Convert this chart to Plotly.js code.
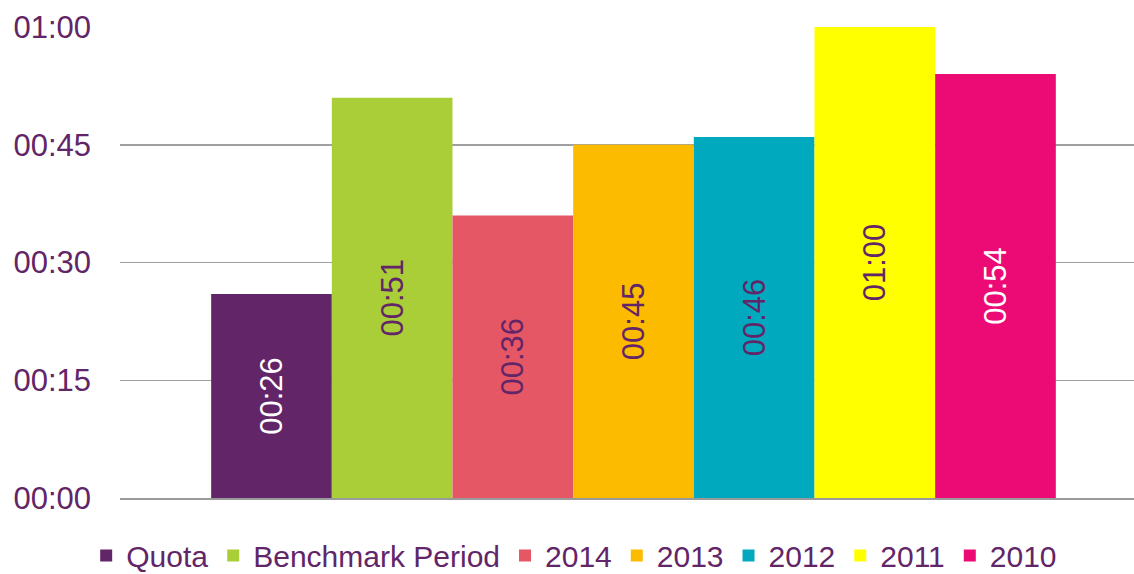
<!DOCTYPE html>
<html>
<head>
<meta charset="utf-8">
<script src="https://cdn.plot.ly/plotly-3.0.1.min.js"></script>
<style>html,body{margin:0;padding:0;background:#fff;}#chart{width:1134px;height:574px;}</style>
</head>
<body>
<div id="chart"></div>
<script>
const category = ["Average time"];
const seriesNames = ["Quota", "Benchmark Period", "2014", "2013", "2012", "2011", "2010"];
const seriesSeconds = [26, 51, 36, 45, 46, 60, 54];
const seriesColors = ["#622567", "#A9CE38", "#E65766", "#FDBB00", "#00A9BE", "#FFFF00", "#EC0A75"];
const labelColors = ["#FFFFFF", "#622567", "#622567", "#622567", "#622567", "#622567", "#FFFFFF"];
const tickValues = [0, 15, 30, 45, 60];
const tickLabels = ["00:00", "00:15", "00:30", "00:45", "01:00"];

function mmss(s) {
  const m = Math.floor(s / 60), r = Math.round(s % 60);
  return String(m).padStart(2, "0") + ":" + String(r).padStart(2, "0");
}

const purple = "#622567";
const traces = seriesNames.map((n, i) => ({
  type: "bar",
  name: n,
  x: category,
  y: [seriesSeconds[i]],
  text: [mmss(seriesSeconds[i])],
  texttemplate: "%{text}",
  textposition: "inside",
  insidetextanchor: "middle",
  textangle: -90,
  constraintext: "none",
  insidetextfont: {family: "Liberation Sans, Arial, sans-serif", size: 31, color: labelColors[i]},
  marker: {color: seriesColors[i], line: {width: 0}},
  hoverinfo: "skip"
}));

const layout = {
  width: 1134, height: 574,
  margin: {l: 120, r: 0, t: 27, b: 76, autoexpand: false},
  paper_bgcolor: "#fff", plot_bgcolor: "#fff",
  barmode: "group", bargap: 0.167, bargroupgap: 0,
  font: {family: "Liberation Sans, Arial, sans-serif", color: purple},
  showlegend: true,
  legend: {
    orientation: "h", x: 0.076, xanchor: "left", xref: "container",
    y: -0.122, yanchor: "middle", yref: "paper",
    font: {size: 30, color: purple},
    itemclick: false, itemdoubleclick: false,
    traceorder: "normal"
  },
  xaxis: {
    type: "category", range: [-0.5064, 0.4936],
    showticklabels: false, showgrid: false, zeroline: false,
    showline: true, linecolor: "#9a9a9a", linewidth: 2, ticks: "", fixedrange: true
  },
  yaxis: {
    range: [0, 60], tickmode: "array", tickvals: tickValues, ticktext: tickLabels,
    showgrid: true, gridcolor: "#a0a0a0", gridwidth: 1.5, zeroline: false,
    showline: false, ticks: "", ticklabelstandoff: 28,
    tickfont: {size: 31, color: purple}, fixedrange: true
  }
};

Plotly.newPlot("chart", traces, layout, {displayModeBar: false, staticPlot: true});
</script>
</body>
</html>
